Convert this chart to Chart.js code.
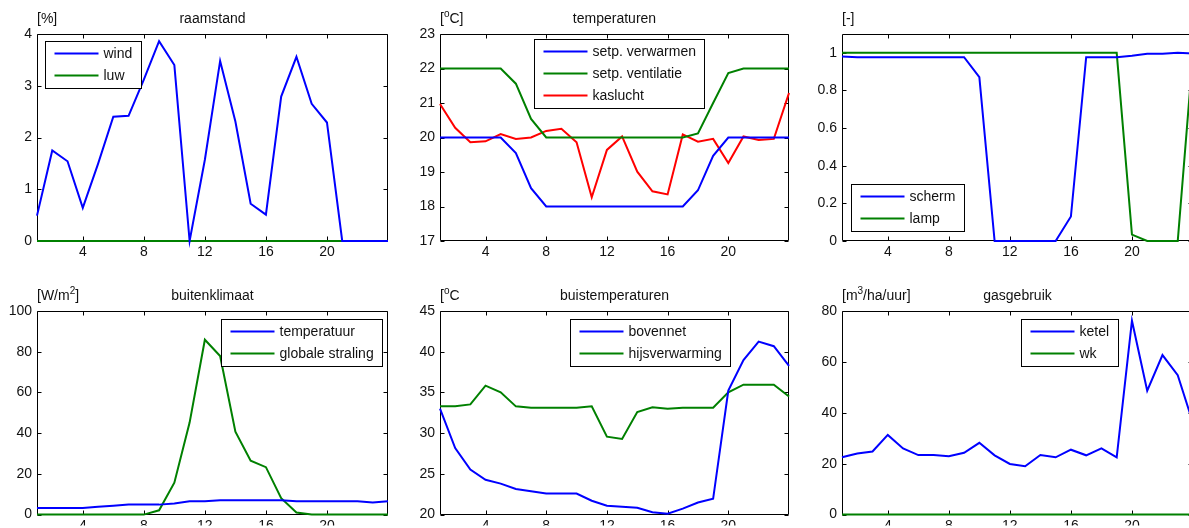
<!DOCTYPE html>
<html lang="nl">
<head>
<meta charset="UTF-8">
<title>kasklimaat</title>
<script src="https://cdn.jsdelivr.net/npm/chart.js@4.4.1/dist/chart.umd.min.js"></script>
<style>
  html, body { margin: 0; padding: 0; background: #fff; overflow: hidden; width: 1189px; height: 528px; }
  canvas { position: absolute; }
</style>
</head>
<body>
<canvas id="raam" width="400" height="264" style="left:0;top:0"></canvas>
<canvas id="temp" width="400" height="264" style="left:400px;top:0"></canvas>
<canvas id="scherm" width="400" height="264" style="left:800px;top:0"></canvas>
<canvas id="buiten" width="400" height="264" style="left:0;top:264px"></canvas>
<canvas id="buis" width="400" height="264" style="left:400px;top:264px"></canvas>
<canvas id="gas" width="400" height="264" style="left:800px;top:264px"></canvas>

<script>
// uren van de dag
const uren = [1, 2, 3, 4, 5, 6, 7, 8, 9, 10, 11, 12, 13, 14, 15, 16, 17, 18, 19, 20, 21, 22, 23, 24];
const xTicks = [4, 8, 12, 16, 20];

// raamstand [%]
const raamWind = [0.49, 1.75, 1.54, 0.64, 1.49, 2.40, 2.42, 3.12, 3.86, 3.40, 0, 1.57, 3.48, 2.31, 0.72, 0.51, 2.79, 3.56, 2.65, 2.29, 0, 0, 0, 0];
const raamLuw = [0, 0, 0, 0, 0, 0, 0, 0, 0, 0, 0, 0, 0, 0, 0, 0, 0, 0, 0, 0, 0, 0, 0, 0];
const raamTicks = [0, 1, 2, 3, 4];

// temperaturen [oC]
const setpVerwarmen = [20, 20, 20, 20, 20, 19.55, 18.53, 18, 18, 18, 18, 18, 18, 18, 18, 18, 18, 18.47, 19.47, 20, 20, 20, 20, 20];
const setpVentilatie = [22, 22, 22, 22, 22, 21.56, 20.54, 20, 20, 20, 20, 20, 20, 20, 20, 20, 20, 20.12, 21.0, 21.87, 22, 22, 22, 22];
const kaslucht = [20.97, 20.28, 19.86, 19.89, 20.10, 19.96, 20.0, 20.19, 20.25, 19.86, 18.27, 19.64, 20.03, 19.01, 18.44, 18.35, 20.09, 19.88, 19.96, 19.26, 20.03, 19.93, 19.96, 21.29];
const tempTicks = [17, 18, 19, 20, 21, 22, 23];

// scherm en lamp [-]
const schermStand = [0.98, 0.977, 0.977, 0.977, 0.977, 0.977, 0.977, 0.977, 0.977, 0.871, 0, 0, 0, 0, 0, 0.13, 0.977, 0.977, 0.977, 0.984, 0.995, 0.995, 1.0, 0.996];
const lampStand = [1, 1, 1, 1, 1, 1, 1, 1, 1, 1, 1, 1, 1, 1, 1, 1, 1, 1, 1, 0.034, 0, 0, 0, 1];
const schermTicks = [0, 0.2, 0.4, 0.6, 0.8, 1];

// buitenklimaat [W/m2]
const buitenTemp = [3.2, 3.2, 3.2, 3.2, 3.8, 4.4, 4.9, 4.9, 4.9, 5.5, 6.5, 6.5, 7.0, 7.0, 7.0, 7.0, 7.0, 6.5, 6.5, 6.5, 6.5, 6.5, 5.9, 6.5];
const globaleStraling = [0, 0, 0, 0, 0, 0, 0, 0, 2.1, 15.7, 45.2, 85.9, 77.9, 40.7, 26.5, 23.3, 8.1, 1.0, 0, 0, 0, 0, 0, 0];
const buitenTicks = [0, 20, 40, 60, 80, 100];

// buistemperaturen [oC]
const bovennet = [33.0, 28.16, 25.53, 24.28, 23.8, 23.15, 22.87, 22.58, 22.58, 22.58, 21.7, 21.09, 20.97, 20.85, 20.28, 20.12, 20.73, 21.49, 21.94, 35.23, 38.98, 41.24, 40.68, 38.26];
const hijsverwarming = [33.29, 33.29, 33.53, 35.83, 35.02, 33.29, 33.13, 33.13, 33.13, 33.13, 33.29, 29.57, 29.29, 32.6, 33.17, 33.0, 33.13, 33.13, 33.13, 35.02, 35.95, 35.95, 35.95, 34.5];
const buisTicks = [20, 25, 30, 35, 40, 45];

// gasgebruik [m3/ha/uur]
const ketel = [22.5, 24.0, 24.8, 31.3, 26.0, 23.4, 23.4, 22.9, 24.3, 28.2, 23.3, 19.9, 19.0, 23.4, 22.5, 25.5, 23.3, 26.0, 22.5, 76.2, 48.7, 62.7, 54.8, 36];
const wk = [0, 0, 0, 0, 0, 0, 0, 0, 0, 0, 0, 0, 0, 0, 0, 0, 0, 0, 0, 0, 0, 0, 0, 0];
const gasTicks = [0, 20, 40, 60, 80];

const BLAUW = '#0000ff', GROEN = '#008000', ROOD = '#ff0000';
const FONT = '"Liberation Sans", Arial, Helvetica, sans-serif';

Chart.defaults.font.family = FONT;
Chart.defaults.font.size = 14;
Chart.defaults.color = '#111';

// tekst met ^x als superscript
function tekenTekst(ctx, tekst, x, y, align) {
    let delen = [];
    tekst.split(/(\^.)/).forEach(d => {
        if (!d) return;
        if (d[0] === '^') delen.push({ t: d[1], sup: true });
        else delen.push({ t: d, sup: false });
    });
    let breedte = 0;
    delen.forEach(d => {
        ctx.font = (d.sup ? '10px ' : '14px ') + FONT;
        d.w = ctx.measureText(d.t).width;
        breedte += d.w;
    });
    let px = align === 'center' ? x - breedte / 2 : x;
    ctx.textAlign = 'left';
    ctx.textBaseline = 'alphabetic';
    delen.forEach(d => {
        ctx.font = (d.sup ? '10px ' : '14px ') + FONT;
        ctx.fillText(d.t, px, d.sup ? y - 6 : y);
        px += d.w;
    });
}

// assenkader met naar binnen gerichte tickjes
const kader = {
    id: 'kader',
    beforeDatasetsDraw(chart) {
        const { ctx, chartArea: a, scales: { x, y } } = chart;
        const l = Math.round(a.left) + 0.5, r = Math.round(a.right) - 0.5;
        const t = Math.round(a.top) + 0.5, b = Math.round(a.bottom) - 0.5;
        ctx.save();
        ctx.strokeStyle = '#000';
        ctx.lineWidth = 1;
        ctx.beginPath();
        ctx.rect(l, t, r - l, b - t);
        x.ticks.forEach(tk => {
            const px = Math.round(x.getPixelForValue(tk.value)) + 0.5;
            ctx.moveTo(px, b); ctx.lineTo(px, b - 4);
            ctx.moveTo(px, t); ctx.lineTo(px, t + 4);
        });
        y.ticks.forEach(tk => {
            const py = Math.round(y.getPixelForValue(tk.value)) + 0.5;
            ctx.moveTo(l, py); ctx.lineTo(l + 4, py);
            ctx.moveTo(r, py); ctx.lineTo(r - 4, py);
        });
        ctx.stroke();
        ctx.restore();
    },
    afterDatasetsDraw(chart, args, opts) {
        const { ctx, chartArea: a } = chart;
        ctx.save();
        ctx.fillStyle = '#111';
        tekenTekst(ctx, opts.titel, (a.left + a.right) / 2, a.top - 11, 'center');
        tekenTekst(ctx, opts.eenheid, a.left, a.top - 11, 'left');

        // legenda in matlab-stijl
        const sets = chart.data.datasets;
        ctx.font = '14px ' + FONT;
        let maxW = 0;
        sets.forEach(s => { maxW = Math.max(maxW, ctx.measureText(s.label).width); });
        const bx = Math.round(a.left + opts.legenda.x) + 0.5;
        const by = Math.round(a.top + opts.legenda.y) + 0.5;
        const bw = Math.round(58 + maxW + 9);
        const bh = 12 + 22 * (sets.length - 1) + 13;
        ctx.fillStyle = '#fff';
        ctx.fillRect(bx, by, bw, bh);
        ctx.strokeStyle = '#000';
        ctx.lineWidth = 1;
        ctx.strokeRect(bx, by, bw, bh);
        sets.forEach((s, i) => {
            const ry = by + 12 + 22 * i;
            ctx.strokeStyle = s.borderColor;
            ctx.lineWidth = 2;
            ctx.beginPath();
            ctx.moveTo(bx + 9, ry);
            ctx.lineTo(bx + 53, ry);
            ctx.stroke();
            ctx.fillStyle = '#111';
            ctx.textAlign = 'left';
            ctx.textBaseline = 'middle';
            ctx.fillText(s.label, bx + 58, ry + 1);
        });
        ctx.restore();
    }
};

function maakGrafiek(id, p) {
    const ctx = document.getElementById(id);
    return new Chart(ctx, {
        type: 'line',
        data: {
            labels: uren,
            datasets: p.series.map(s => ({
                label: s.label,
                data: s.data,
                borderColor: s.kleur,
                backgroundColor: s.kleur,
                borderWidth: 2,
                pointRadius: 0,
                tension: 0,
                clip: false
            }))
        },
        options: {
            responsive: false,
            animation: false,
            events: [],
            layout: {
                padding: { left: 0, top: p.vlak.top, right: 400 - p.vlak.right, bottom: 0 }
            },
            plugins: {
                legend: { display: false },
                tooltip: { enabled: false },
                kader: { titel: p.titel, eenheid: p.eenheid, legenda: p.legenda }
            },
            scales: {
                x: {
                    type: 'linear',
                    min: 1,
                    max: 24,
                    grid: { display: false, drawTicks: false },
                    border: { display: false },
                    ticks: { padding: 3, maxRotation: 0 },
                    afterBuildTicks: s => { s.ticks = xTicks.map(v => ({ value: v })); },
                    afterFit: s => { s.height = 264 - p.vlak.bottom; }
                },
                y: {
                    min: p.yMin,
                    max: p.yMax,
                    grid: { display: false, drawTicks: false },
                    border: { display: false },
                    ticks: { padding: 5, callback: v => String(+v.toFixed(2)) },
                    afterBuildTicks: s => { s.ticks = p.yTicks.map(v => ({ value: v })); },
                    afterFit: s => { s.width = p.vlak.left; }
                }
            }
        },
        plugins: [kader]
    });
}

const boven = { top: 34, bottom: 241 };
const onder = { top: 47, bottom: 253 };

maakGrafiek('raam', {
    titel: 'raamstand', eenheid: '[%]',
    vlak: { left: 37, right: 388, ...boven },
    yMin: 0, yMax: 4, yTicks: raamTicks,
    legenda: { x: 8, y: 7 },
    series: [
        { label: 'wind', data: raamWind, kleur: BLAUW },
        { label: 'luw', data: raamLuw, kleur: GROEN }
    ]
});

maakGrafiek('temp', {
    titel: 'temperaturen', eenheid: '[^oC]',
    vlak: { left: 40, right: 389, ...boven },
    yMin: 17, yMax: 23, yTicks: tempTicks,
    legenda: { x: 94, y: 5 },
    series: [
        { label: 'setp. verwarmen', data: setpVerwarmen, kleur: BLAUW },
        { label: 'setp. ventilatie', data: setpVentilatie, kleur: GROEN },
        { label: 'kaslucht', data: kaslucht, kleur: ROOD }
    ]
});

maakGrafiek('scherm', {
    titel: '', eenheid: '[-]',
    vlak: { left: 42, right: 393, ...boven },
    yMin: 0, yMax: 1.1, yTicks: schermTicks,
    legenda: { x: 9, y: 150 },
    series: [
        { label: 'scherm', data: schermStand, kleur: BLAUW },
        { label: 'lamp', data: lampStand, kleur: GROEN }
    ]
});

maakGrafiek('buiten', {
    titel: 'buitenklimaat', eenheid: '[W/m^2]',
    vlak: { left: 37, right: 388, ...onder },
    yMin: 0, yMax: 100, yTicks: buitenTicks,
    legenda: { x: 184, y: 8 },
    series: [
        { label: 'temperatuur', data: buitenTemp, kleur: BLAUW },
        { label: 'globale straling', data: globaleStraling, kleur: GROEN }
    ]
});

maakGrafiek('buis', {
    titel: 'buistemperaturen', eenheid: '[^oC',
    vlak: { left: 40, right: 389, ...onder },
    yMin: 20, yMax: 45, yTicks: buisTicks,
    legenda: { x: 130, y: 8 },
    series: [
        { label: 'bovennet', data: bovennet, kleur: BLAUW },
        { label: 'hijsverwarming', data: hijsverwarming, kleur: GROEN }
    ]
});

maakGrafiek('gas', {
    titel: 'gasgebruik', eenheid: '[m^3/ha/uur]',
    vlak: { left: 42, right: 393, ...onder },
    yMin: 0, yMax: 80, yTicks: gasTicks,
    legenda: { x: 179, y: 8 },
    series: [
        { label: 'ketel', data: ketel, kleur: BLAUW },
        { label: 'wk', data: wk, kleur: GROEN }
    ]
});
</script>
</body>
</html>
